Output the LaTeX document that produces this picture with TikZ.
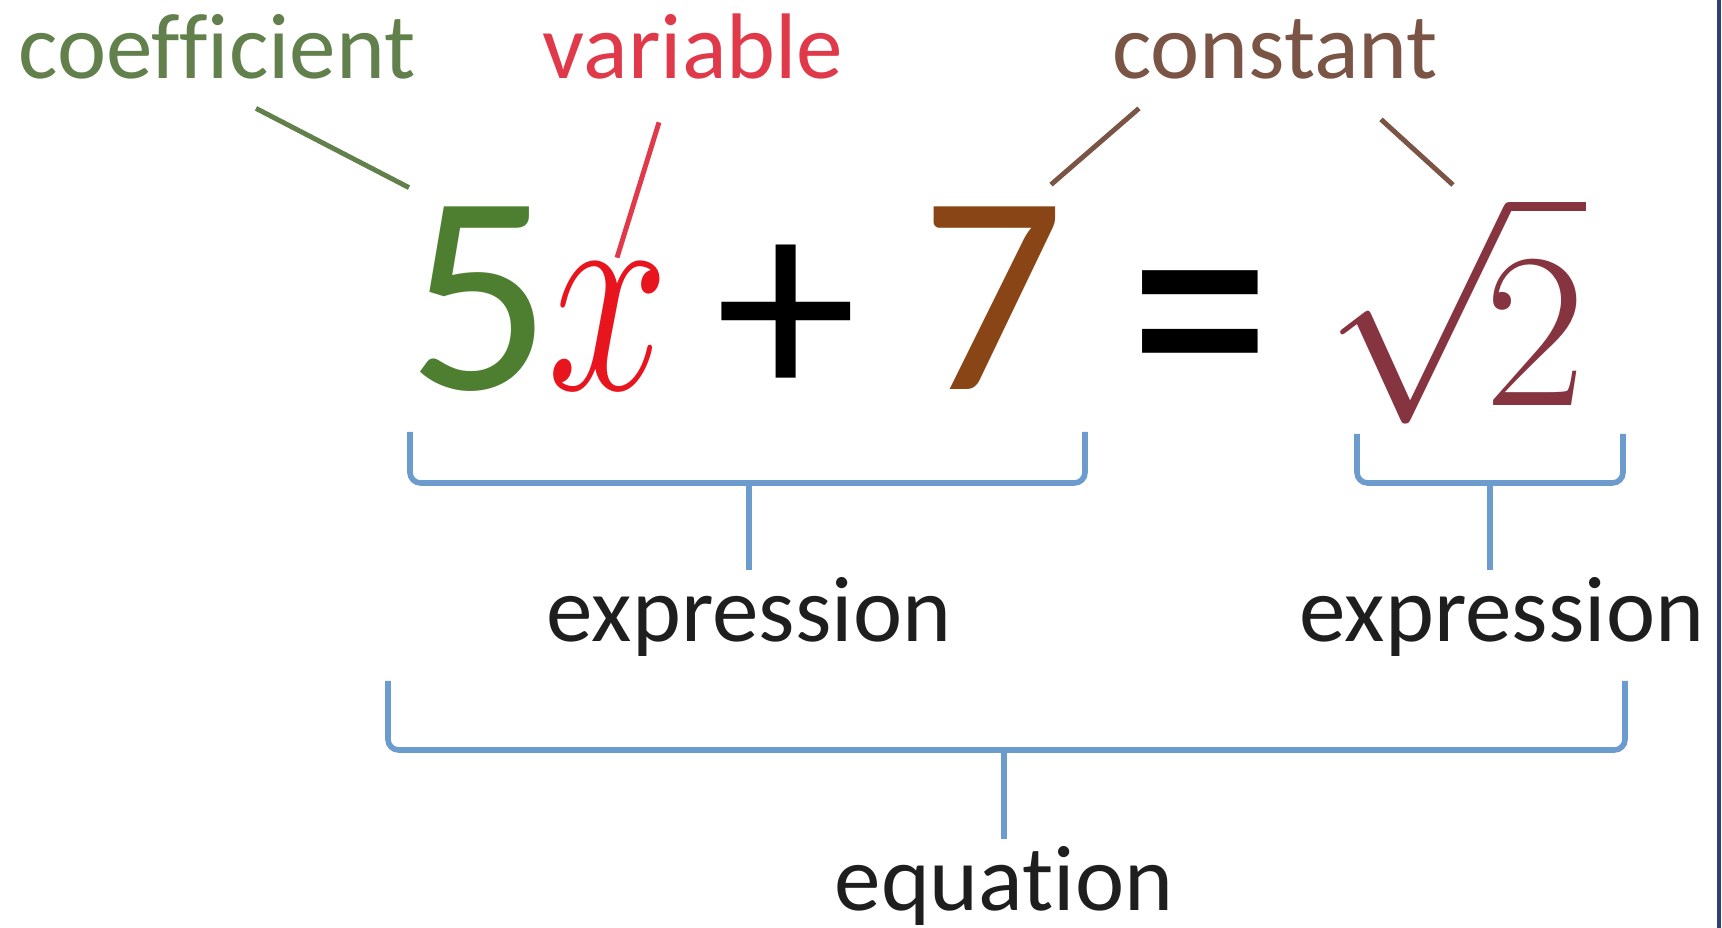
\RequirePackage{fix-cm}
\documentclass[tikz,border=0pt]{standalone}
\usepackage{fontspec}
\setmainfont[Ligatures=NoCommon]{Carlito}
\usetikzlibrary{calc}
\definecolor{eqGreen}{HTML}{4E7F30}
\definecolor{eqOlive}{HTML}{62804C}
\definecolor{eqRed}{HTML}{E8141E}
\definecolor{eqPink}{HTML}{E03A4A}
\definecolor{eqBrown}{HTML}{8A4516}
\definecolor{eqTan}{HTML}{7A5444}
\definecolor{eqMaroon}{HTML}{86343F}
\definecolor{eqBlue}{HTML}{6C9BCD}
\definecolor{eqInk}{HTML}{1E1E1E}
\definecolor{eqNavy}{HTML}{2E3F73}
\tikzset{
  lbl/.style={font=\fontsize{26.5}{28}\selectfont, inner sep=0pt, anchor=base},
  big/.style={font=\fontsize{81}{81}\selectfont, inner sep=0pt, anchor=base},
  lead/.style={line width=1.4pt},
  brace/.style={draw=eqBlue, line width=1.6pt, rounded corners=3pt},
}

\begin{document}
\begin{tikzpicture}
  \fill[white] (0,0) rectangle (17.22,-9.28);
  \useasboundingbox (0,0) rectangle (17.22,-9.28);
  % the equation
  \node[big,text=eqGreen] (five) at (4.80,-3.90){5};
  \node[big,text=eqRed,font=\fontsize{83}{83}\selectfont] (var) at (6.08,-3.90){\scalebox{0.75}[1]{$x$}};
  \node[big,text=black] (plus) at (7.86,-4.02){+};
  \node[big,text=black] (equals) at (12.00,-4.30){\scalebox{1}[1.3]{=}};
  \node[big,text=eqBrown] (seven) at (9.93,-3.90){7};
  \node[big,text=eqMaroon,font=\fontsize{63}{63}\selectfont] (root) at (14.55,-4.06){$\sqrt{\mkern-2mu\rule{0pt}{1.75cm}2}$};
  % labels on top
  \node[lbl,text=eqOlive] (coef) at (2.17,-0.79){coefficient};
  \node[lbl,text=eqPink] (varlbl) at (6.93,-0.79){variable};
  \node[lbl,text=eqTan] (const) at (12.75,-0.79){constant};
  \draw[lead,eqOlive] ([shift={(0.39,-0.28)}]coef.south) -- ([shift={(-0.71,0.19)}]five.north);
  \draw[lead,eqPink] ([shift={(-0.34,-0.42)}]varlbl.south) -- ([shift={(0.09,0.06)}]var.north);
  \draw[lead,eqTan] ([shift={(-1.36,-0.28)}]const.south) -- ([shift={(0.58,0.22)}]seven.north);
  \draw[lead,eqTan] ([shift={(1.06,-0.39)}]const.south) -- ([shift={(-0.02,0.08)}]root.north);
  % braces and their names
  \node[lbl,text=eqInk] (expA) at (7.49,-6.42){expression};
  \node[lbl,text=eqInk] (expB) at (15.02,-6.42){expression};
  \node[lbl,text=eqInk] (eqn) at (10.04,-9.11){equation};
  \draw[brace] (4.10,-4.32) |- (10.85,-4.83) -- (10.85,-4.32);
  \draw[brace] (13.57,-4.34) |- (16.23,-4.83) -- (16.23,-4.34);
  \draw[brace] (3.88,-6.81) |- (16.25,-7.50) -- (16.25,-6.81);
  \draw[brace] ([yshift=0.07cm]expA.north) -- (expA.north |- 0,-4.83);
  \draw[brace] ([shift={(-0.12,0.07)}]expB.north) -- ([xshift=-0.12cm]expB.north |- 0,-4.83);
  \draw[brace] ([yshift=0.07cm]eqn.north) -- (eqn.north |- 0,-7.50);
  \draw[eqNavy,line width=1.2pt] (17.19,0) -- (17.19,-9.28);
\end{tikzpicture}
\end{document}
